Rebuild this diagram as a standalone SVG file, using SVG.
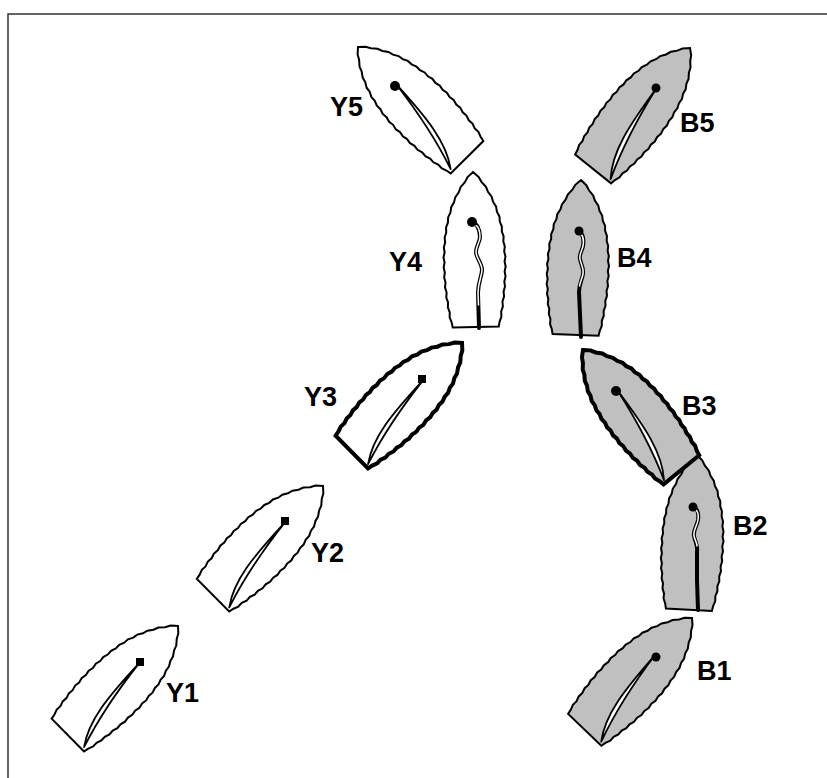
<svg xmlns="http://www.w3.org/2000/svg" xmlns:xlink="http://www.w3.org/1999/xlink" width="827" height="778" viewBox="0 0 827 778">
<style>
.y{fill:#ffffff;stroke:#000;stroke-width:2;stroke-linejoin:miter}
.b{fill:#c0c0c0;stroke:#000;stroke-width:2;stroke-linejoin:miter}
.thick{stroke-width:4}
.s{fill:#ffffff;stroke:#000;stroke-width:1.8;stroke-linejoin:round}
.lb{fill:none;stroke:#000;stroke-width:4;stroke-linecap:round}
.lw{fill:none;stroke:#fff;stroke-width:1.5;stroke-linecap:round}
text{font-family:"Liberation Sans",Arial,sans-serif;font-weight:bold;font-size:27px;fill:#000}
</style>
<defs>
<path id="hull" d="M0,0 L5.5,5 L8.3,10 L12.7,15 L14.6,20 L18.2,25 L19.5,30 L22.5,35 L23.2,40 L25.7,45 L25.9,50 L27.9,55 L27.8,60 L29.5,65 L29.1,70 L30.5,75 L29.8,80 L31,85 L30,90 L31,95 L29.9,100 L30.7,105 L29.4,110 L30,115 L28.5,120 L28.9,125 L27.2,130 L27.5,135 L25.7,140 L25.9,145 L24,150 L23,155 L-23,155 L-24,150 L-25.9,145 L-25.7,140 L-27.5,135 L-27.2,130 L-28.9,125 L-28.5,120 L-30,115 L-29.4,110 L-30.7,105 L-29.9,100 L-31,95 L-30,90 L-31,85 L-29.8,80 L-30.5,75 L-29.1,70 L-29.5,65 L-27.8,60 L-27.9,55 L-25.9,50 L-25.7,45 L-23.2,40 L-22.5,35 L-19.5,30 L-18.2,25 L-14.6,20 L-12.7,15 L-8.3,10 L-5.5,5 Z"/>
<path id="sail" d="M-1,53 C1,100 4,130 20,152 C12,128 4,95 -1,53 Z"/>
</defs>
<rect x="8" y="14" width="840" height="790" fill="#fff" stroke="#333" stroke-width="1.5"/>

<g id="Y5">
<use xlink:href="#hull" class="y" transform="translate(358,47) rotate(-44.7)"/>
<use xlink:href="#sail" class="s" transform="translate(358,47) rotate(-44.7) scale(-1,1)"/>
<circle cx="395" cy="86" r="5"/>
<text x="330" y="116">Y5</text>
</g>

<g id="B5">
<use xlink:href="#hull" class="b" transform="translate(690,48) rotate(38.7)"/>
<use xlink:href="#sail" class="s" transform="translate(690,48) rotate(38.7)"/>
<circle cx="656" cy="88" r="4.5"/>
<text x="680" y="132">B5</text>
</g>

<g id="Y4">
<use xlink:href="#hull" class="y" transform="translate(473,172) rotate(-1)"/>
<path class="lb" d="M472,222 C477,223 480,230 480,237 C480,242 476,246 476,252 C476,258 482,263 482,270 C482,276 478,282 478,293 L479,328"/>
<path class="lw" d="M475,225 C478,226 480,231 480,237 C480,242 476,246 476,252 C476,258 482,263 482,270 C482,276 478,282 478,293 L478.5,305"/>
<circle cx="472" cy="222" r="5"/>
<text x="389" y="271">Y4</text>
</g>

<g id="B4">
<use xlink:href="#hull" class="b" transform="translate(581,180) rotate(2)"/>
<path class="lb" d="M579,231 C583,233 584,240 583,246 C582,251 579,254 580,259 C581,265 584,268 583,274 C582,280 579,284 579,292 L581,337"/>
<path class="lw" d="M581,234 C583,236 584,240 583,246 C582,251 579,254 580,259 C581,265 584,268 583,274 C582,279 580,282 579.5,286"/>
<circle cx="579" cy="231" r="4.5"/>
<text x="617" y="267">B4</text>
</g>

<g id="Y3">
<use xlink:href="#hull" class="y thick" transform="translate(462,343) rotate(45.3)"/>
<use xlink:href="#sail" class="s" transform="translate(462,343) rotate(45.3)"/>
<rect x="418" y="375" width="8" height="8"/>
<text x="304" y="406">Y3</text>
</g>

<g id="B2">
<use xlink:href="#hull" class="b" transform="translate(697,455) rotate(3)"/>
<path class="lb" d="M693,507 C697,508 699,513 698,520 C697,526 693,530 694,536 C695,542 698,545 697,552 L697,580 L698,610"/>
<path class="lw" d="M695,509 C697,510 699,514 698,520 C697,526 693,530 694,536 C695,540 697,543 697,546"/>
<circle cx="693" cy="507" r="4.5"/>
<text x="733" y="535">B2</text>
</g>

<g id="B3">
<use xlink:href="#hull" class="b thick" transform="translate(583,350) rotate(-39.4)"/>
<use xlink:href="#sail" class="s" transform="translate(583,350) rotate(-39.4) scale(-1,1)"/>
<circle cx="616" cy="391" r="5"/>
<text x="682" y="415">B3</text>
</g>

<g id="Y2">
<use xlink:href="#hull" class="y" transform="translate(323,486) rotate(45.2)"/>
<use xlink:href="#sail" class="s" transform="translate(323,486) rotate(45.2)"/>
<rect x="281" y="517" width="8" height="8"/>
<text x="311" y="562">Y2</text>
</g>

<g id="Y1">
<use xlink:href="#hull" class="y" transform="translate(178,626) rotate(45.3)"/>
<use xlink:href="#sail" class="s" transform="translate(178,626) rotate(45.3)"/>
<rect x="136" y="658" width="8" height="8"/>
<text x="166" y="702">Y1</text>
</g>

<g id="B1">
<use xlink:href="#hull" class="b" transform="translate(692,618) rotate(43.8)"/>
<use xlink:href="#sail" class="s" transform="translate(692,618) rotate(43.8)"/>
<circle cx="656" cy="657" r="4.5"/>
<text x="697" y="680">B1</text>
</g>

<g id="connectors"></g>
</svg>
